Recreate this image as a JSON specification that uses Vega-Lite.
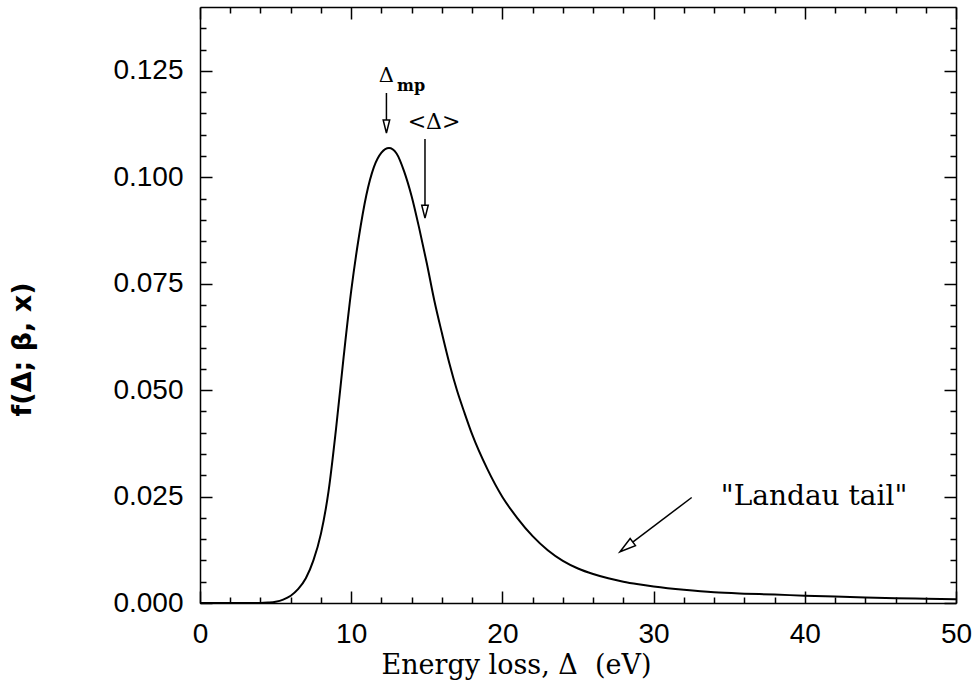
{
  "$schema": "https://vega.github.io/schema/vega-lite/v6.json",
  "width": 756,
  "height": 596,
  "autosize": "none",
  "padding": {"left": 200, "top": 7, "right": 24, "bottom": 87},
  "background": "white",
  "config": {
    "view": {"stroke": null},
    "axis": {"grid": false, "domainColor": "black", "domainWidth": 1.5, "tickColor": "black", "tickWidth": 1.5, "labelColor": "black", "titleColor": "black"}
  },
  "datasets": {
    "curve": [
      {"energy": 0, "f": 0}, {"energy": 2, "f": 0}, {"energy": 4, "f": 0}, {"energy": 4.5, "f": 0.0001},
      {"energy": 5, "f": 0.0003}, {"energy": 5.5, "f": 0.0008}, {"energy": 6, "f": 0.0017}, {"energy": 6.5, "f": 0.0033},
      {"energy": 7, "f": 0.0058}, {"energy": 7.5, "f": 0.0100}, {"energy": 8, "f": 0.0163}, {"energy": 8.5, "f": 0.0262},
      {"energy": 9, "f": 0.0410}, {"energy": 9.5, "f": 0.0578}, {"energy": 10, "f": 0.0733}, {"energy": 10.5, "f": 0.0858},
      {"energy": 11, "f": 0.0958}, {"energy": 11.5, "f": 0.1024}, {"energy": 12, "f": 0.1058}, {"energy": 12.5, "f": 0.1069},
      {"energy": 13, "f": 0.1056}, {"energy": 13.5, "f": 0.1014}, {"energy": 14, "f": 0.0955}, {"energy": 14.5, "f": 0.0880},
      {"energy": 15, "f": 0.0798}, {"energy": 15.5, "f": 0.0710}, {"energy": 16, "f": 0.0634}, {"energy": 16.5, "f": 0.0562},
      {"energy": 17, "f": 0.0499}, {"energy": 17.5, "f": 0.0446}, {"energy": 18, "f": 0.0396}, {"energy": 19, "f": 0.0315},
      {"energy": 20, "f": 0.0249}, {"energy": 21, "f": 0.0199}, {"energy": 22, "f": 0.0157}, {"energy": 23, "f": 0.0124},
      {"energy": 24, "f": 0.0099}, {"energy": 25, "f": 0.0081}, {"energy": 26, "f": 0.0068}, {"energy": 27, "f": 0.0058},
      {"energy": 28, "f": 0.0050}, {"energy": 29, "f": 0.0044}, {"energy": 30, "f": 0.0039}, {"energy": 32, "f": 0.0031},
      {"energy": 34, "f": 0.0025}, {"energy": 36, "f": 0.0022}, {"energy": 38, "f": 0.0020}, {"energy": 40, "f": 0.0017},
      {"energy": 42, "f": 0.0015}, {"energy": 44, "f": 0.0013}, {"energy": 46, "f": 0.0011}, {"energy": 48, "f": 0.0010},
      {"energy": 50, "f": 0.0009}
    ],
    "deltaLabel": [{"x": 12.33, "y": 0.1239, "label": "Δ"}],
    "mpLabel": [{"x": 13.96, "y": 0.1214, "label": "mp"}],
    "meanLabel": [{"x": 15.48, "y": 0.1130, "label": "<Δ>"}],
    "tailLabel": [{"x": 40.61, "y": 0.0249, "label": "\"Landau tail\""}],
    "arrowLines": [
      {"x": 12.33, "y": 0.1198, "x2": 12.33, "y2": 0.1132},
      {"x": 14.88, "y": 0.1090, "x2": 14.88, "y2": 0.0935},
      {"x": 32.52, "y": 0.02478, "x2": 28.62, "y2": 0.01431}
    ],
    "vHeads": [{"x": 12.33, "y": 0.1104}, {"x": 14.88, "y": 0.0904}],
    "tailHead": [{"x": 27.78, "y": 0.01205}]
  },
  "layer": [
    {
      "data": {"name": "curve"},
      "mark": {"type": "line", "color": "black", "strokeWidth": 2, "interpolate": "monotone"},
      "encoding": {
        "x": {"field": "energy", "type": "quantitative", "scale": {"domain": [0, 50], "nice": false, "zero": false},
          "axis": {"orient": "bottom", "values": [0,10,20,30,40,50], "tickSize": -12, "format": "d",
            "labelFont": "Liberation Sans", "labelFontSize": 28, "labelPadding": 29, "labelFlush": false, "labelOverlap": false,
            "title": "Energy loss, Δ\u00a0\u00a0(eV)", "titleFont": "DejaVu Serif", "titleFontSize": 27, "titleFontWeight": "normal",
            "titleX": 316, "titleY": 70, "titleAlign": "center", "titleBaseline": "alphabetic"}},
        "y": {"field": "f", "type": "quantitative", "scale": {"domain": [0, 0.14], "nice": false},
          "axis": {"orient": "left", "values": [0,0.025,0.05,0.075,0.1,0.125], "tickSize": -12, "format": ".3f",
            "labelFont": "Liberation Sans", "labelFontSize": 28, "labelPadding": 29, "labelFlush": false, "labelOverlap": false,
            "title": "f(Δ; β, x)", "titleFont": "DejaVu Sans", "titleFontSize": 27, "titleFontWeight": "bold",
            "titleX": -178, "titleY": 342, "titleAlign": "center", "titleBaseline": "middle", "titleAngle": -90}}
      }
    },
    {
      "data": {"name": "curve"},
      "mark": {"type": "point", "opacity": 0},
      "encoding": {
        "x": {"field": "energy", "type": "quantitative", "scale": {"domain": [0, 50], "nice": false, "zero": false},
          "axis": {"orient": "top", "values": [0,10,20,30,40,50], "tickSize": -12, "labels": false, "title": null}},
        "y": {"field": "f", "type": "quantitative", "scale": {"domain": [0, 0.14], "nice": false},
          "axis": {"orient": "right", "values": [0,0.025,0.05,0.075,0.1,0.125], "tickSize": -12, "labels": false, "title": null}}
      }
    },
    {
      "data": {"name": "curve"},
      "mark": {"type": "point", "opacity": 0},
      "encoding": {
        "x": {"field": "energy", "type": "quantitative", "scale": {"domain": [0, 50], "nice": false, "zero": false},
          "axis": {"orient": "bottom", "values": [2,4,6,8,12,14,16,18,22,24,26,28,32,34,36,38,42,44,46,48], "tickSize": -6, "labels": false, "domain": false, "title": null}},
        "y": {"field": "f", "type": "quantitative", "scale": {"domain": [0, 0.14], "nice": false},
          "axis": {"orient": "left", "values": [0.005,0.01,0.015,0.02,0.03,0.035,0.04,0.045,0.055,0.06,0.065,0.07,0.08,0.085,0.09,0.095,0.105,0.11,0.115,0.12,0.13,0.135], "tickSize": -6, "labels": false, "domain": false, "title": null}}
      }
    },
    {
      "data": {"name": "curve"},
      "mark": {"type": "point", "opacity": 0},
      "encoding": {
        "x": {"field": "energy", "type": "quantitative", "scale": {"domain": [0, 50], "nice": false, "zero": false},
          "axis": {"orient": "top", "values": [2,4,6,8,12,14,16,18,22,24,26,28,32,34,36,38,42,44,46,48], "tickSize": -6, "labels": false, "domain": false, "title": null}},
        "y": {"field": "f", "type": "quantitative", "scale": {"domain": [0, 0.14], "nice": false},
          "axis": {"orient": "right", "values": [0.005,0.01,0.015,0.02,0.03,0.035,0.04,0.045,0.055,0.06,0.065,0.07,0.08,0.085,0.09,0.095,0.105,0.11,0.115,0.12,0.13,0.135], "tickSize": -6, "labels": false, "domain": false, "title": null}}
      }
    },
    {
      "data": {"name": "arrowLines"},
      "mark": {"type": "rule", "color": "black", "strokeWidth": 1.5},
      "encoding": {
        "x": {"field": "x", "type": "quantitative", "scale": {"domain": [0, 50], "nice": false, "zero": false}, "axis": null},
        "y": {"field": "y", "type": "quantitative", "scale": {"domain": [0, 0.14], "nice": false}, "axis": null},
        "x2": {"field": "x2"},
        "y2": {"field": "y2"}
      }
    },
    {
      "data": {"name": "vHeads"},
      "mark": {"type": "point", "shape": "M0,0L-0.5,-2L0.5,-2Z", "size": 169, "filled": true, "fill": "white", "stroke": "black", "strokeWidth": 1.5, "opacity": 1},
      "encoding": {
        "x": {"field": "x", "type": "quantitative", "scale": {"domain": [0, 50], "nice": false, "zero": false}, "axis": null},
        "y": {"field": "y", "type": "quantitative", "scale": {"domain": [0, 0.14], "nice": false}, "axis": null}
      }
    },
    {
      "data": {"name": "tailHead"},
      "mark": {"type": "point", "shape": "M0,0L-0.55,-2L0.55,-2Z", "size": 256, "angle": 53, "filled": true, "fill": "white", "stroke": "black", "strokeWidth": 1.5, "opacity": 1},
      "encoding": {
        "x": {"field": "x", "type": "quantitative", "scale": {"domain": [0, 50], "nice": false, "zero": false}, "axis": null},
        "y": {"field": "y", "type": "quantitative", "scale": {"domain": [0, 0.14], "nice": false}, "axis": null}
      }
    },
    {
      "data": {"name": "deltaLabel"},
      "mark": {"type": "text", "font": "DejaVu Serif", "fontSize": 21, "align": "center", "baseline": "middle", "color": "black"},
      "encoding": {
        "x": {"field": "x", "type": "quantitative", "scale": {"domain": [0, 50], "nice": false, "zero": false}, "axis": null},
        "y": {"field": "y", "type": "quantitative", "scale": {"domain": [0, 0.14], "nice": false}, "axis": null},
        "text": {"field": "label"}
      }
    },
    {
      "data": {"name": "mpLabel"},
      "mark": {"type": "text", "font": "DejaVu Serif", "fontSize": 16, "fontWeight": "bold", "align": "center", "baseline": "middle", "color": "black"},
      "encoding": {
        "x": {"field": "x", "type": "quantitative", "scale": {"domain": [0, 50], "nice": false, "zero": false}, "axis": null},
        "y": {"field": "y", "type": "quantitative", "scale": {"domain": [0, 0.14], "nice": false}, "axis": null},
        "text": {"field": "label"}
      }
    },
    {
      "data": {"name": "meanLabel"},
      "mark": {"type": "text", "font": "DejaVu Serif", "fontSize": 22, "align": "center", "baseline": "middle", "color": "black"},
      "encoding": {
        "x": {"field": "x", "type": "quantitative", "scale": {"domain": [0, 50], "nice": false, "zero": false}, "axis": null},
        "y": {"field": "y", "type": "quantitative", "scale": {"domain": [0, 0.14], "nice": false}, "axis": null},
        "text": {"field": "label"}
      }
    },
    {
      "data": {"name": "tailLabel"},
      "mark": {"type": "text", "font": "DejaVu Serif", "fontSize": 28, "align": "center", "baseline": "middle", "color": "black"},
      "encoding": {
        "x": {"field": "x", "type": "quantitative", "scale": {"domain": [0, 50], "nice": false, "zero": false}, "axis": null},
        "y": {"field": "y", "type": "quantitative", "scale": {"domain": [0, 0.14], "nice": false}, "axis": null},
        "text": {"field": "label"}
      }
    }
  ],
  "resolve": {"axis": {"x": "independent", "y": "independent"}}
}
